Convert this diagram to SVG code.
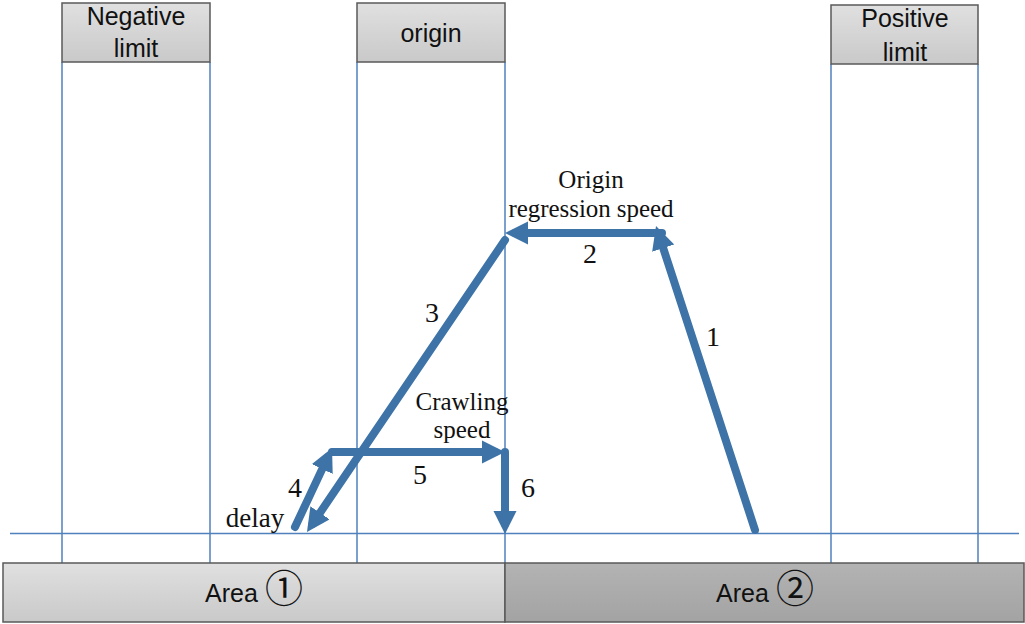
<svg xmlns="http://www.w3.org/2000/svg" width="1025" height="624" viewBox="0 0 1025 624">
  <defs>
    <linearGradient id="lightGray" x1="0" y1="0" x2="0" y2="1">
      <stop offset="0" stop-color="#e0e0e0"/>
      <stop offset="1" stop-color="#c9c9c9"/>
    </linearGradient>
    <linearGradient id="darkGray" x1="0" y1="0" x2="0" y2="1">
      <stop offset="0" stop-color="#b3b3b3"/>
      <stop offset="1" stop-color="#a3a3a3"/>
    </linearGradient>
    <marker id="head" markerWidth="3.1" markerHeight="3.1" refX="1.65" refY="1.45" orient="auto" markerUnits="strokeWidth">
      <path d="M0,0 L2.9,1.45 L0,2.9 z" fill="#3e73a7"/>
    </marker>
  </defs>
  <style>
    .box { stroke: #595959; stroke-width: 1.5; }
    .guide { stroke: #4f81bd; stroke-width: 1.5; fill: none; }
    .move { stroke: #3e73a7; stroke-width: 8; stroke-linecap: round; fill: none; marker-end: url(#head); }
    .sans { font-family: "Liberation Sans", Arial, sans-serif; font-size: 25px; fill: #111; text-anchor: middle; }
    .serif { font-family: "Liberation Serif", "Times New Roman", serif; font-size: 25px; fill: #111; text-anchor: middle; }
    .num { font-size: 28px; }
    .circ { font-family: "Noto Sans CJK JP", "DejaVu Sans", sans-serif; font-size: 38px; }
  </style>

  <rect width="1025" height="624" fill="#ffffff"/>

  <!-- guide lines: zone boundaries and the travel axis -->
  <g id="guides">
    <line class="guide" x1="62" y1="62" x2="62" y2="563"/>
    <line class="guide" x1="210" y1="62" x2="210" y2="563"/>
    <line class="guide" x1="357" y1="62" x2="357" y2="563"/>
    <line class="guide" x1="505" y1="62" x2="505" y2="563"/>
    <line class="guide" x1="831" y1="64" x2="831" y2="563"/>
    <line class="guide" x1="978" y1="64" x2="978" y2="563"/>
    <line class="guide" x1="10" y1="533.5" x2="1019" y2="533.5"/>
  </g>

  <g id="negative-limit">
    <rect class="box" x="62" y="3" width="148" height="59" fill="url(#lightGray)"/>
    <text class="sans" x="136" y="25">Negative</text>
    <text class="sans" x="136" y="57">limit</text>
  </g>

  <g id="origin">
    <rect class="box" x="357" y="3" width="148" height="59" fill="url(#lightGray)"/>
    <text class="sans" x="431" y="42">origin</text>
  </g>

  <g id="positive-limit">
    <rect class="box" x="831" y="5" width="147" height="59" fill="url(#lightGray)"/>
    <text class="sans" x="905" y="27">Positive</text>
    <text class="sans" x="905" y="61">limit</text>
  </g>

  <g id="area-1">
    <rect class="box" x="3" y="563" width="502" height="59" fill="url(#lightGray)"/>
    <text class="sans" x="254" y="602">Area <tspan class="circ">①</tspan></text>
  </g>

  <g id="area-2">
    <rect class="box" x="505" y="563" width="519" height="59" fill="url(#darkGray)"/>
    <text class="sans" x="765" y="602">Area <tspan class="circ">②</tspan></text>
  </g>

  <!-- homing sequence moves -->
  <g id="connectors">
    <line class="move" x1="755" y1="530" x2="659.1" y2="235.5"/>
    <line class="move" x1="662" y1="233" x2="515" y2="233"/>
    <line class="move" x1="505" y1="240" x2="312.6" y2="523.7"/>
    <line class="move" x1="295" y1="527" x2="327.8" y2="457.1"/>
    <line class="move" x1="332" y1="452" x2="495" y2="452"/>
    <line class="move" x1="505" y1="452" x2="505" y2="524"/>
  </g>

  <g id="labels">
    <text class="serif" x="591" y="188">Origin</text>
    <text class="serif" x="591" y="217" textLength="165">regression speed</text>
    <text class="serif num" x="590" y="263">2</text>
    <text class="serif num" x="713" y="346">1</text>
    <text class="serif num" x="432" y="322">3</text>
    <text class="serif" x="462" y="410">Crawling</text>
    <text class="serif" x="462" y="438">speed</text>
    <text class="serif num" x="295" y="497">4</text>
    <text class="serif num" x="420" y="484">5</text>
    <text class="serif num" x="528" y="497">6</text>
    <text class="serif" x="255" y="527" style="font-size:27px">delay</text>
  </g>
</svg>
